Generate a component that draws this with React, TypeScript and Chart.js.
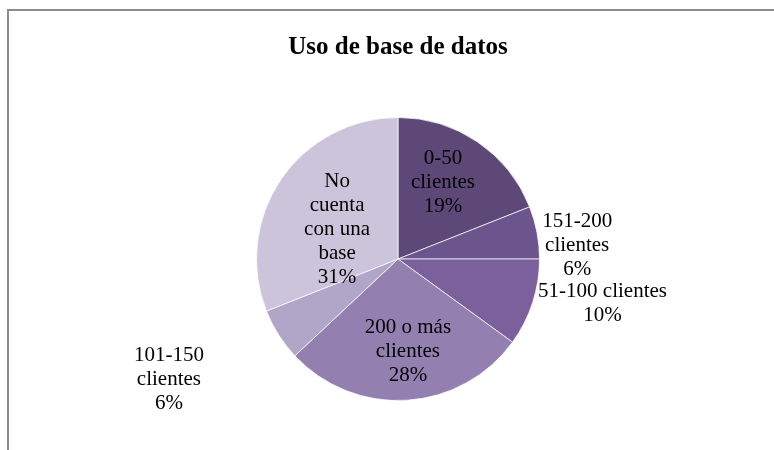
import React, { useEffect, useRef } from "react";
import { Chart, registerables } from "chart.js";

Chart.register(...registerables);

const titleText = "Uso de base de datos";
const categories = [
  "0-50 clientes",
  "151-200 clientes",
  "51-100 clientes",
  "200 o más clientes",
  "101-150 clientes",
  "No cuenta con una base",
];
const values = [19, 6, 10, 28, 6, 31];
const categoryLines = [
  ["0-50", "clientes"],
  ["151-200", "clientes"],
  ["51-100 clientes"],
  ["200 o más", "clientes"],
  ["101-150", "clientes"],
  ["No", "cuenta", "con una", "base"],
];
const sliceColors = ["#5D4878", "#6C548D", "#7C609B", "#9480B0", "#B1A6C7", "#CCC4DA"];

// label placement: radial factor of outer radius, angular offset (deg) from slice mid
const labelPlacement = [
  { r: 0.63, da: -3.9 },
  { r: 1.27, da: 6.4 },
  { r: 1.48, da: -5.6 },
  { r: 0.66, da: -2.5 },
  { r: 1.83, da: 4.6 },
  { r: 0.48, da: -8 },
];

const SERIF = "'Liberation Serif', 'Times New Roman', serif";

const pieLabels = {
  id: "pieLabels",
  afterDatasetsDraw(chart: any) {
    const meta = chart.getDatasetMeta(0);
    const data = chart.data.datasets[0].data as number[];
    const total = data.reduce((a, b) => a + b, 0);
    const ctx = chart.ctx;
    ctx.save();
    ctx.font = `21px ${SERIF}`;
    ctx.fillStyle = "#000";
    ctx.textAlign = "center";
    ctx.textBaseline = "middle";
    const lineH = 24;
    meta.data.forEach((arc: any, i: number) => {
      const p = arc.getProps(["x", "y", "startAngle", "endAngle", "outerRadius"], true);
      const pl = labelPlacement[i];
      const mid = (p.startAngle + p.endAngle) / 2 + (pl.da * Math.PI) / 180;
      const cx = p.x + Math.cos(mid) * p.outerRadius * pl.r;
      const cy = p.y + Math.sin(mid) * p.outerRadius * pl.r;
      const pct = Math.round((data[i] / total) * 100) + "%";
      const lines = [...categoryLines[i], pct];
      const y0 = cy - ((lines.length - 1) / 2) * lineH;
      lines.forEach((ln, k) => ctx.fillText(ln, cx, y0 + k * lineH));
    });
    ctx.restore();
  },
};

export default function App() {
  const ref = useRef<HTMLCanvasElement>(null);
  useEffect(() => {
    if (!ref.current) return;
    const chart = new Chart(ref.current, {
      type: "pie",
      data: {
        labels: categories,
        datasets: [
          {
            data: values,
            backgroundColor: sliceColors,
            borderColor: "rgba(255,255,255,0.7)",
            borderWidth: 1,
          },
        ],
      },
      options: {
        responsive: false,
        animation: false,
        layout: { padding: { top: 0, bottom: 49, left: 247, right: 234 } },
        plugins: {
          legend: { display: false },
          tooltip: { enabled: false },
          title: {
            display: true,
            text: titleText,
            color: "#000",
            font: { family: SERIF, size: 25, weight: "bold", lineHeight: 1.2 },
            padding: { top: 22, bottom: 54 },
          },
        },
      },
      plugins: [pieLabels],
    });
    return () => chart.destroy();
  }, []);
  return (
    <div
      style={{
        position: "fixed",
        left: 7,
        top: 9,
        right: -60,
        bottom: -60,
        borderTop: "2px solid #8c8c8c",
        borderLeft: "2px solid #8c8c8c",
        background: "#fff",
      }}
    >
      <canvas ref={ref} width={765} height={439} style={{ display: "block" }} />
    </div>
  );
}
